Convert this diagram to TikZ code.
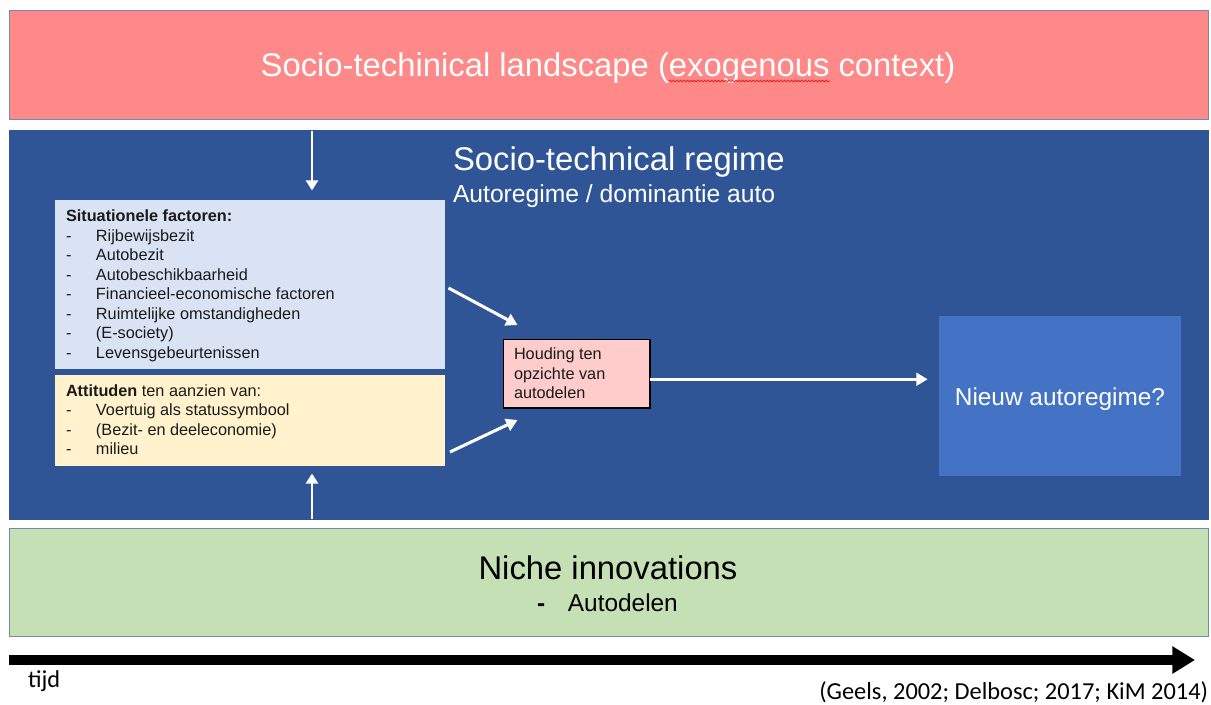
\documentclass[tikz,border=0pt]{standalone}
\usepackage{fontspec}
\setmainfont{Liberation Sans}
\newfontfamily\calibri{Carlito}
\usetikzlibrary{arrows.meta,decorations.pathmorphing,fit,calc}

\definecolor{landfill}{HTML}{FF8888}
\definecolor{frameblue}{HTML}{7089B8}
\definecolor{regimefill}{HTML}{2F5597}
\definecolor{sitfill}{HTML}{DAE3F3}
\definecolor{attfill}{HTML}{FFF2CC}
\definecolor{attitudefill}{HTML}{FFCCCC}
\definecolor{newfill}{HTML}{4472C4}
\definecolor{nichefill}{HTML}{C5E0B4}
\definecolor{bodytext}{HTML}{1A1A1A}
\definecolor{spellred}{HTML}{E02020}

\newcommand{\dashitem}[1]{\makebox[22.5pt][l]{-}#1}

\begin{document}
\begin{tikzpicture}[x=0.75pt,y=-0.75pt,
  panel/.style={inner sep=0pt, outer sep=0pt},
  layer/.style={panel, draw=frameblue, line width=0.75pt},
  txt/.style={inner sep=0pt, outer sep=0pt},
  flow/.style={draw=white, line width=2.3pt, -{Triangle[length=8.5pt,width=9.5pt]}},
  vflow/.style={draw=white, line width=1.8pt, -{Triangle[length=7.5pt,width=9pt]}},
  bigtitle/.style={txt, text=white, font=\fontsize{24.6}{29}\selectfont},
  itemtext/.style={txt, align=left, text=bodytext, font=\fontsize{12.2}{14.6}\selectfont},
]
\useasboundingbox (0,0) rectangle (1211,704);
\fill[white] (0,0) rectangle (1211,704);

% layers
\node[layer, fill=landfill, fit={(9,10) (1208,119)}] (landscape) {};
\node[panel, fill=regimefill, draw=regimefill, line width=0.75pt, fit={(9,130) (1208,519)}] (regime) {};
\node[layer, fill=nichefill, fit={(9,528) (1208,636)}] (niche) {};

% landscape title with spelling mark
\node[bigtitle, anchor=base] (landtitle) at (608,76) {Socio-techinical landscape (exogenous context)};
\draw[spellred, line width=0.6pt, decorate,
      decoration={snake, amplitude=0.6pt, segment length=2.6pt}] (669,81) -- (830,81);

% regime titles
\node[bigtitle, anchor=base west] (regtitle) at (453,170) {Socio-technical regime};
\node[txt, text=white, anchor=base west, font=\fontsize{18.5}{22}\selectfont] (regsub) at (453,202) {Autoregime / dominantie auto};

% factor boxes
\node[panel, fill=sitfill, fit={(54.5,199.5) (444.5,369)}] (sit) {};
\node[panel, fill=attfill, fit={(54.5,374.5) (444.5,465.5)}] (att) {};

\node[itemtext, anchor=north west] (sittext) at (66,210.2) {%
  \textbf{Situationele factoren:}\\
  \dashitem{Rijbewijsbezit}\\
  \dashitem{Autobezit}\\
  \dashitem{Autobeschikbaarheid}\\
  \dashitem{Financieel-economische factoren}\\
  \dashitem{Ruimtelijke omstandigheden}\\
  \dashitem{(E-society)}\\
  \dashitem{Levensgebeurtenissen}};

\node[itemtext, anchor=north west] (atttext) at (66,384.5) {%
  \textbf{Attituden} ten aanzien van:\\
  \dashitem{Voertuig als statussymbool}\\
  \dashitem{(Bezit- en deeleconomie)}\\
  \dashitem{milieu}};

% attitude towards car sharing
\node[panel, fill=attitudefill, draw=black, line width=0.9pt, fit={(503.5,339.5) (650,408)}] (houding) {};
\node[itemtext, anchor=north west] (houdingtext) at (514,347.8) {Houding ten\\opzichte van\\autodelen};

% new regime
\node[panel, fill=newfill, fit={(939,316) (1181,476)}] (newreg) {};
\node[txt, text=white, anchor=base, font=\fontsize{18.3}{22}\selectfont] (newtext) at (1060,405) {Nieuw autoregime?};

% niche text
\node[bigtitle, text=black, anchor=base] (nichetitle) at (608,579) {Niche innovations};
\node[txt, anchor=base west, font=\fontsize{18.3}{22}\selectfont] (nicheitem) at (537,611) {\makebox[23.2pt][l]{\textbf{-}}Autodelen};

% influences
\coordinate (downstart) at (312,131);
\draw[vflow, shorten >=6.8pt] (downstart) -- (downstart |- sit.north);
\coordinate (upstart) at (312,518.5);
\draw[vflow, shorten >=6pt] (upstart) -- (upstart |- att.south);

\coordinate (sitout) at (448.5,288);
\coordinate (sitin) at ($(houding.north west)+(14,-14.5)$);
\draw[flow] (sitout) -- (sitin);
\coordinate (attout) at (450,452);
\coordinate (attin) at ($(houding.south west)+(14,12)$);
\draw[flow] (attout) -- (attin);

\coordinate (hout) at ($(houding.east)+(0,5.5)$);
\draw[flow, shorten >=8.5pt] (hout) -- (hout -| newreg.west);

% time axis
\coordinate (tstart) at (9,660);
\coordinate (tend) at (1195,660);
\draw[line width=6.8pt, -{Triangle[length=17pt,width=19.5pt]}] (tstart) -- (tend);
\node[txt, anchor=base west, font=\calibri\fontsize{18.2}{22}\selectfont] (tijd) at (28,687) {tijd};
\node[txt, anchor=base east, font=\calibri\fontsize{18.3}{22}\selectfont] (cite) at (1208,699) {(Geels, 2002; Delbosc; 2017; KiM 2014)};
\end{tikzpicture}
\end{document}
